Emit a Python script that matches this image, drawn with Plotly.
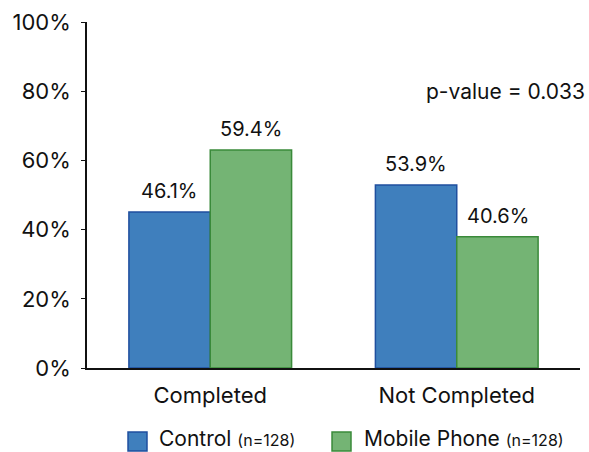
import plotly.graph_objects as go

categories = ["Completed", "Not Completed"]
control_heights = [45.1, 52.9]
mobile_heights = [63.0, 37.9]
control_labels = ["46.1%", "53.9%"]
mobile_labels = ["59.4%", "40.6%"]
series_names = ["Control", "Mobile Phone"]
series_notes = ["(n=128)", "(n=128)"]
y_ticks = [0, 20, 40, 60, 80, 100]
y_tick_labels = ["0%", "20%", "40%", "60%", "80%", "100%"]
p_value_text = "p-value = 0.033"

BLUE = "#3f7fbd"
BLUE_EDGE = "#1f4f9f"
GREEN = "#74b474"
GREEN_EDGE = "#3a8a3a"
FONT = "Inter"
INK = "#111"

fig = go.Figure()
fig.add_trace(go.Bar(x=categories, y=control_heights, name=series_names[0], showlegend=False,
                     marker=dict(color=BLUE, line=dict(color=BLUE_EDGE, width=1.5))))
fig.add_trace(go.Bar(x=categories, y=mobile_heights, name=series_names[1], showlegend=False,
                     marker=dict(color=GREEN, line=dict(color=GREEN_EDGE, width=1.5))))

annotations = []
for cat, h, lab in zip(categories, control_heights, control_labels):
    annotations.append(dict(x=cat, y=h, xref="x", yref="y", text=lab, showarrow=False,
                            xshift=-41, yshift=7, yanchor="bottom",
                            font=dict(size=20, color=INK, family=FONT)))
for cat, h, lab in zip(categories, mobile_heights, mobile_labels):
    annotations.append(dict(x=cat, y=h, xref="x", yref="y", text=lab, showarrow=False,
                            xshift=41, yshift=7, yanchor="bottom",
                            font=dict(size=20, color=INK, family=FONT)))
annotations.append(dict(x=1.014, y=80, xref="paper", yref="y", text=p_value_text,
                        showarrow=False, xanchor="right", yanchor="middle",
                        font=dict(size=21, color=INK, family=FONT)))

# manual legend (large square swatches)
legend_colors = [(BLUE, BLUE_EDGE), (GREEN, GREEN_EDGE)]
swatch_x = [0.0832, 0.497]
text_x = [0.144, 0.56]
shapes = []
for (fill, edge), sx, tx, name, note in zip(legend_colors, swatch_x, text_x,
                                            series_names, series_notes):
    shapes.append(dict(type="rect", xref="paper", yref="paper",
                       x0=sx, x1=sx + 0.0385, y0=-0.2399, y1=-0.185,
                       fillcolor=fill, line=dict(color=edge, width=1.5)))
    annotations.append(dict(x=tx, y=-0.203, xref="paper", yref="paper",
                            text=f"{name} <span style='font-size:16px'>{note}</span>",
                            showarrow=False, xanchor="left", yanchor="middle",
                            borderpad=0,
                            font=dict(size=21, color=INK, family=FONT)))

fig.update_layout(
    width=589, height=452,
    margin=dict(l=87, r=9, t=22, b=84, autoexpand=False),
    paper_bgcolor="white", plot_bgcolor="white",
    font=dict(family=FONT, size=22, color=INK),
    barmode="group", bargap=0.34, bargroupgap=0,
    showlegend=False,
    annotations=annotations,
    shapes=shapes,
)
fig.update_yaxes(range=[0, 100], tickvals=y_ticks, ticktext=y_tick_labels,
                 showgrid=False, zeroline=False, showline=True, linecolor=INK,
                 linewidth=1.5, ticks="outside", ticklen=4, tickcolor=INK,
                 ticklabelstandoff=6,
                 tickfont=dict(size=22, family=FONT, color=INK))
fig.update_xaxes(showgrid=False, showline=True, linecolor=INK, linewidth=1.5,
                 ticks="", ticklabelstandoff=7,
                 tickfont=dict(size=22, family=FONT, color=INK))

fig.write_html("out.html")
